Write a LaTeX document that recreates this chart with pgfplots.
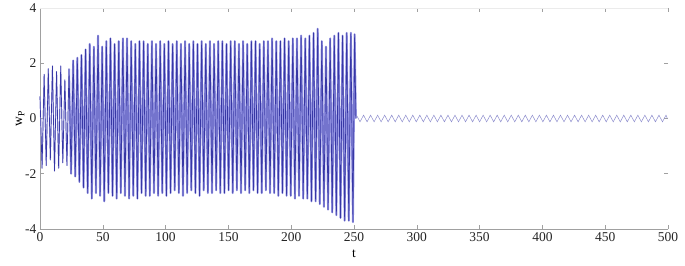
\documentclass[border=0pt]{standalone}
\usepackage{pgfplots}
\usepackage{pgfplotstable}
\pgfplotsset{compat=1.18}
\usepackage{fontspec}
\setmainfont{Liberation Serif}
\definecolor{sig}{RGB}{55,55,165}
\definecolor{band}{RGB}{150,150,228}
\definecolor{tailc}{RGB}{140,140,205}
\definecolor{axc}{RGB}{160,160,160}
\pgfplotstableread{
t w
0 0.8
1.65 -1.8
3.3 1.6
4.95 -1.7
6.6 1.8
8.25 -1.5
9.9 1.9
11.55 -1.9
13.2 1.7
14.85 -1.8
16.5 1.9
18.15 -1.6
19.8 1.4
21.45 -1.7
23.1 1.8
24.75 -2.0
26.4 2.1
28.05 -2.1
29.7 2.2
31.35 -2.3
33 2.3
34.65 -2.5
36.3 2.5
37.95 -2.7
39.6 2.7
41.25 -2.9
42.9 2.6
44.55 -2.7
46.2 3.0
47.85 -2.8
49.5 2.6
51.15 -3.0
52.8 2.8
54.45 -2.7
56.1 2.9
57.75 -2.8
59.4 2.7
61.05 -2.9
62.7 2.8
64.35 -2.7
66 2.9
67.65 -2.8
69.3 2.9
70.95 -2.9
72.6 2.8
74.25 -2.8
75.9 2.7
77.55 -2.9
79.2 2.8
80.85 -2.7
82.5 2.8
84.15 -2.8
85.8 2.7
87.45 -2.8
89.1 2.8
90.75 -2.7
92.4 2.7
94.05 -2.8
95.7 2.8
97.35 -2.7
99 2.7
100.65 -2.8
102.3 2.8
103.95 -2.7
105.6 2.7
107.25 -2.6
108.9 2.8
110.55 -2.7
112.2 2.7
113.85 -2.8
115.5 2.8
117.15 -2.7
118.8 2.7
120.45 -2.6
122.1 2.8
123.75 -2.7
125.4 2.7
127.05 -2.8
128.7 2.8
130.35 -2.6
132 2.7
133.65 -2.7
135.3 2.8
136.95 -2.7
138.6 2.7
140.25 -2.6
141.9 2.8
143.55 -2.7
145.2 2.8
146.85 -2.7
148.5 2.7
150.15 -2.6
151.8 2.8
153.45 -2.7
155.1 2.8
156.75 -2.6
158.4 2.7
160.05 -2.7
161.7 2.8
163.35 -2.6
165 2.7
166.65 -2.7
168.3 2.8
169.95 -2.6
171.6 2.8
173.25 -2.7
174.9 2.7
176.55 -2.7
178.2 2.8
179.85 -2.6
181.5 2.8
183.15 -2.7
184.8 2.9
186.45 -2.7
188.1 2.8
189.75 -2.8
191.4 2.8
193.05 -2.7
194.7 2.9
196.35 -2.8
198 2.8
199.65 -2.8
201.3 2.9
202.95 -2.9
204.6 2.9
206.25 -2.8
207.9 3.0
209.55 -2.9
211.2 2.9
212.85 -2.9
214.5 3.0
216.15 -3.0
217.8 3.1
219.45 -3.0
221.1 3.25
222.75 -3.1
224.4 2.8
226.05 -3.2
227.7 2.6
229.35 -3.3
231 2.9
232.65 -3.4
234.3 3.0
235.95 -3.5
237.6 3.1
239.25 -3.6
240.9 3.0
242.55 -3.7
244.2 3.1
245.85 -3.7
247.5 3.1
249.15 -3.75
250.5 3.05
251.5 0.0
}\sigdata
\begin{document}
\begin{tikzpicture}[font=\fontsize{13.5}{16}\selectfont]
\begin{axis}[name=a, scale only axis, width=628pt, height=221pt,
  xmin=0, xmax=500, ymin=-4, ymax=4,
  xtick={0,50,...,500}, ytick={-4,-2,0,2,4},
  tick align=inside, major tick length=4pt,
  tick style={axc, line width=0.5pt},
  axis line style={draw=none},
  /pgf/number format/assume math mode=true,
  ticklabel style={font=\fontsize{13.5}{16}\selectfont, text=black!85},
  label style={font=\fontsize{13.5}{16}\selectfont},
  xlabel={t}, ylabel={w\textsubscript{P}},
  xlabel style={yshift=-1pt}, ylabel style={yshift=-6pt},
  clip=false]
\draw[axc, line width=0.5pt] (rel axis cs:0,0) -- (rel axis cs:1,0);
\draw[axc, line width=0.5pt] (rel axis cs:0,0) -- (rel axis cs:0,1);
\draw[black!8, line width=0.5pt] (rel axis cs:0,1) -- (rel axis cs:1,1);
\addplot[band, line width=2.0pt, line join=round, restrict x to domain=22:252, forget plot] table[x=t, y=w] {\sigdata};
\addplot[band!60, line width=1.2pt, line join=round, restrict x to domain=0:24, forget plot] table[x=t, y=w] {\sigdata};
\addplot[sig, line width=0.7pt, line join=round] table[x=t, y=w] {\sigdata};
\addplot[tailc, line width=0.5pt] coordinates {
(251.5,0.0) (252,0.12) (254.8,-0.12) (257.6,0.12) (260.4,-0.12) (263.2,0.12) (266,-0.12) (268.8,0.12)
(271.6,-0.12) (274.4,0.12) (277.2,-0.12) (280,0.12) (282.8,-0.12) (285.6,0.12) (288.4,-0.12) (291.2,0.12)
(294,-0.12) (296.8,0.12) (299.6,-0.12) (302.4,0.12) (305.2,-0.12) (308,0.12) (310.8,-0.12) (313.6,0.12)
(316.4,-0.12) (319.2,0.12) (322,-0.12) (324.8,0.12) (327.6,-0.12) (330.4,0.12) (333.2,-0.12) (336,0.12)
(338.8,-0.12) (341.6,0.12) (344.4,-0.12) (347.2,0.12) (350,-0.12) (352.8,0.12) (355.6,-0.12) (358.4,0.12)
(361.2,-0.12) (364,0.12) (366.8,-0.12) (369.6,0.12) (372.4,-0.12) (375.2,0.12) (378,-0.12) (380.8,0.12)
(383.6,-0.12) (386.4,0.12) (389.2,-0.12) (392,0.12) (394.8,-0.12) (397.6,0.12) (400.4,-0.12) (403.2,0.12)
(406,-0.12) (408.8,0.12) (411.6,-0.12) (414.4,0.12) (417.2,-0.12) (420,0.12) (422.8,-0.12) (425.6,0.12)
(428.4,-0.12) (431.2,0.12) (434,-0.12) (436.8,0.12) (439.6,-0.12) (442.4,0.12) (445.2,-0.12) (448,0.12)
(450.8,-0.12) (453.6,0.12) (456.4,-0.12) (459.2,0.12) (462,-0.12) (464.8,0.12) (467.6,-0.12) (470.4,0.12)
(473.2,-0.12) (476,0.12) (478.8,-0.12) (481.6,0.12) (484.4,-0.12) (487.2,0.12) (490,-0.12) (492.8,0.12)
(495.6,-0.12) (498.4,0.12) (499.5,0.0)
};
\end{axis}
\path (a.south west) ++(-40pt,-37pt) coordinate (bl);
\path (a.north east) ++(17pt,8pt) coordinate (tr);
\end{tikzpicture}
\end{document}
